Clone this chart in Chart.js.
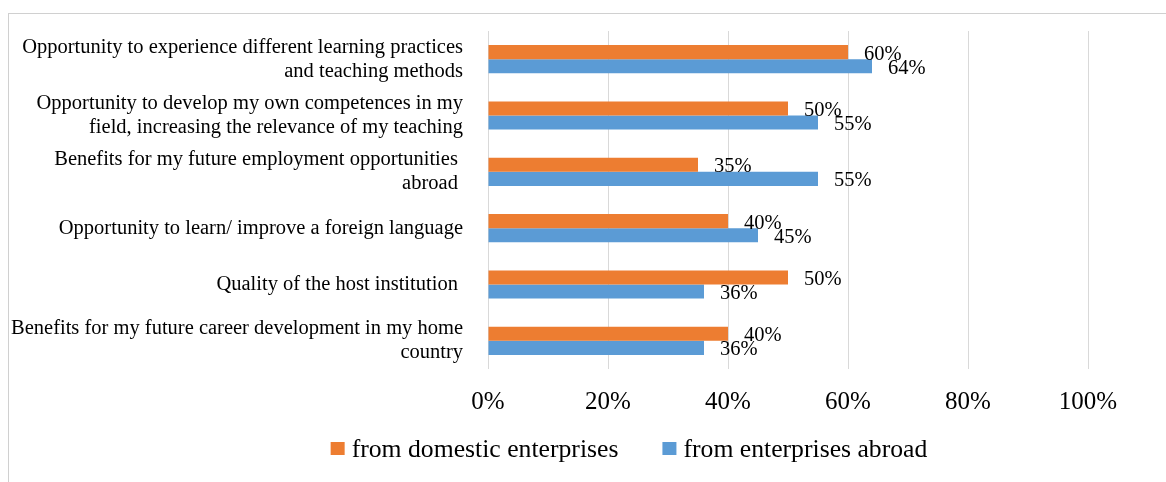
<!DOCTYPE html>
<html>
<head>
<meta charset="utf-8">
<script src="https://cdn.jsdelivr.net/npm/chart.js@4.4.1/dist/chart.umd.min.js"></script>
<style>
  html, body { margin: 0; padding: 0; background: #fff; }
  #frame { position: absolute; left: 8px; top: 13px; width: 1200px; height: 520px; border: 1px solid #d0d0d0; }
  #wrap { position: absolute; left: 0; top: 0; width: 1166px; height: 482px; }
</style>
</head>
<body>
<div id="frame"></div>
<div id="wrap"><canvas id="chart"></canvas></div>
<script>
// Categorías (de arriba hacia abajo) y valores en %
const categories = [
    ['Opportunity to experience different learning practices', 'and teaching methods'],
    ['Opportunity to develop my own competences in my', 'field, increasing the relevance of my teaching'],
    ['Benefits for my future employment opportunities ', 'abroad '],
    'Opportunity to learn/ improve a foreign language',
    'Quality of the host institution ',
    ['Benefits for my future career development in my home', 'country']
];
const domesticValues = [60, 50, 35, 40, 50, 40];
const abroadValues = [64, 55, 55, 45, 36, 36];
const xTicks = [0, 20, 40, 60, 80, 100];

const serif = "'Liberation Serif', 'Times New Roman', serif";

// Etiquetas de datos al final de cada barra
const valueLabels = {
    id: 'valueLabels',
    afterDatasetsDraw(chart) {
        const ctx = chart.ctx;
        ctx.save();
        ctx.font = '20.5px ' + serif;
        ctx.fillStyle = '#000';
        ctx.textAlign = 'left';
        ctx.textBaseline = 'middle';
        chart.data.datasets.forEach((ds, i) => {
            chart.getDatasetMeta(i).data.forEach((bar, j) => {
                ctx.fillText(ds.data[j] + '%', bar.x + 16, bar.y + 2);
            });
        });
        ctx.restore();
    }
};

// Leyenda propia (cuadro pequeño pegado al texto, como en Excel)
const bottomLegend = {
    id: 'bottomLegend',
    afterDraw(chart) {
        const ctx = chart.ctx;
        const datasets = chart.data.datasets;
        const box = 14, gap = 7, itemGap = 44;
        const centerX = 629, centerY = 449;
        ctx.save();
        ctx.font = '25.7px ' + serif;
        ctx.textBaseline = 'middle';
        ctx.textAlign = 'left';
        const widths = datasets.map(ds => ctx.measureText(ds.label).width);
        let total = 0;
        widths.forEach((w, i) => { total += box + gap + w + (i > 0 ? itemGap : 0); });
        let x = centerX - total / 2;
        datasets.forEach((ds, i) => {
            ctx.fillStyle = ds.backgroundColor;
            ctx.fillRect(x, centerY - 7, box, 13);
            ctx.fillStyle = '#000';
            ctx.fillText(ds.label, x + box + gap, centerY + 1);
            x += box + gap + widths[i] + itemGap;
        });
        ctx.restore();
    }
};

new Chart(document.getElementById('chart'), {
    type: 'bar',
    data: {
        labels: categories,
        datasets: [
            {
                label: 'from domestic enterprises',
                data: domesticValues,
                backgroundColor: '#ED7D31',
                barPercentage: 1,
                categoryPercentage: 0.5
            },
            {
                label: 'from enterprises abroad',
                data: abroadValues,
                backgroundColor: '#5B9BD5',
                barPercentage: 1,
                categoryPercentage: 0.5
            }
        ]
    },
    options: {
        indexAxis: 'y',
        responsive: true,
        maintainAspectRatio: false,
        animation: false,
        layout: {
            padding: { left: 10, right: 78, top: 31, bottom: 53 }
        },
        plugins: {
            tooltip: { enabled: false },
            legend: { display: false }
        },
        scales: {
            x: {
                min: 0,
                max: 100,
                afterBuildTicks(scale) {
                    scale.ticks = xTicks.map(v => ({ value: v }));
                },
                afterFit(scale) {
                    scale.height = 60;
                    scale.paddingLeft = 0;
                    scale.paddingRight = 0;
                },
                grid: { color: '#d9d9d9', drawTicks: false },
                border: { display: false },
                ticks: {
                    padding: 18,
                    color: '#000',
                    font: { family: serif, size: 25 },
                    callback: v => v + '%'
                }
            },
            y: {
                afterFit(scale) {
                    scale.width = 478;
                    scale.paddingTop = 0;
                    scale.paddingBottom = 0;
                },
                grid: { display: false, drawTicks: false },
                border: { display: false },
                ticks: {
                    autoSkip: false,
                    padding: 25,
                    color: '#000',
                    font: { family: serif, size: 20.5, lineHeight: 1.17 }
                }
            }
        }
    },
    plugins: [valueLabels, bottomLegend]
});
</script>
</body>
</html>
